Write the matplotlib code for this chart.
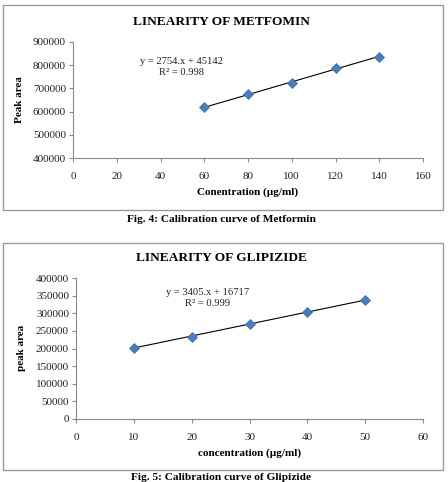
import matplotlib
matplotlib.use("Agg")
import matplotlib.pyplot as plt
import numpy as np
from matplotlib.patches import Rectangle

# ---- data ----
met_conc = [60, 80, 100, 120, 140]
met_area = [619000, 674000, 723000, 788000, 837000]
met_xticks = [0, 20, 40, 60, 80, 100, 120, 140, 160]
met_yticks = [400000, 500000, 600000, 700000, 800000, 900000]

gli_conc = [10, 20, 30, 40, 50]
gli_area = [202000, 234000, 270000, 304000, 337000]
gli_xticks = [0, 10, 20, 30, 40, 50, 60]
gli_yticks = [0, 50000, 100000, 150000, 200000, 250000, 300000, 350000, 400000]

FONT = "Liberation Serif"
W, H = 448, 482
fig = plt.figure(figsize=(W / 100, H / 100), dpi=100)
fig.patch.set_facecolor("white")


def fx(px):
    return px / W


def fy(py):
    return 1 - py / H


# outer chart boxes
for (y0, y1) in [(5, 210), (243, 470)]:
    fig.patches.append(Rectangle((fx(3), fy(y1)), fx(440), (y1 - y0) / H,
                                 transform=fig.transFigure, fill=False,
                                 edgecolor="#9a9a9a", linewidth=1.0))


def panel(rect, xs, ys, xt, yt, title, xlabel, ylabel, eq, r2, eqpos,
          title_y, ylab_pos, xlab_y, caption, cap_y):
    left, top, right, bottom = rect
    ax = fig.add_axes([fx(left), fy(bottom), fx(right - left), (bottom - top) / H])
    ax.set_xlim(xt[0], xt[-1])
    ax.set_ylim(yt[0], yt[-1])
    ax.set_xticks(xt)
    ax.set_yticks(yt)
    ax.set_xticklabels([str(v) for v in xt], fontfamily=FONT, fontsize=8, color="#222222")
    ax.set_yticklabels([str(v) for v in yt], fontfamily=FONT, fontsize=8, color="#222222")
    for s in ["top", "right"]:
        ax.spines[s].set_visible(False)
    for s in ["left", "bottom"]:
        ax.spines[s].set_color("#8a8a8a")
        ax.spines[s].set_linewidth(0.8)
    ax.tick_params(axis="both", direction="out", length=3, width=0.8, color="#8a8a8a")
    ax.tick_params(axis="x", pad=7)
    ax.tick_params(axis="y", pad=2)
    # trendline from data
    coef = np.polyfit(xs, ys, 1)
    xx = np.array([xs[0], xs[-1]])
    ax.plot(xx, np.polyval(coef, xx), color="black", linewidth=0.8, zorder=2)
    ax.plot(xs, ys, linestyle="none", marker="D", markersize=5.2,
            markerfacecolor="#4A7EBB", markeredgecolor="#3A6AA6",
            markeredgewidth=0.5, zorder=3)
    ax.text(eqpos[0], eqpos[1], eq, transform=ax.transAxes, ha="center",
            va="center", fontfamily=FONT, fontsize=7.6, color="#222222")
    ax.text(eqpos[0], eqpos[2], r2, transform=ax.transAxes, ha="center",
            va="center", fontfamily=FONT, fontsize=7.6, color="#222222")
    fig.text(fx(221), fy(title_y), title, ha="center", va="center",
             fontfamily=FONT, fontsize=9.6, fontweight="bold", color="black")
    fig.text(fx(ylab_pos[0]), fy(ylab_pos[1]), ylabel, rotation=90, ha="center",
             va="center", fontfamily=FONT, fontsize=8, fontweight="bold")
    fig.text(fx((left + right) / 2), fy(xlab_y), xlabel, ha="center", va="center",
             fontfamily=FONT, fontsize=8, fontweight="bold")
    fig.text(fx(221), fy(cap_y), caption, ha="center", va="center",
             fontfamily=FONT, fontsize=8.2, fontweight="bold")
    return ax


panel((73, 42, 423, 158), met_conc, met_area, met_xticks, met_yticks,
      "LINEARITY OF METFOMIN", "Conentration (µg/ml)", "Peak area",
      "y = 2754.x + 45142", "R² = 0.998", (0.311, 0.835, 0.74),
      22, (19, 100), 192, "Fig. 4: Calibration curve of Metformin", 220)

panel((76, 278, 423, 419), gli_conc, gli_area, gli_xticks, gli_yticks,
      "LINEARITY OF GLIPIZIDE", "concentration (µg/ml)", "peak area",
      "y = 3405.x + 16717", "R² = 0.999", (0.38, 0.90, 0.822),
      258, (22, 348), 453, "Fig. 5: Calibration curve of Glipizide", 477)

fig.savefig("out.png", dpi=100, facecolor="white")
